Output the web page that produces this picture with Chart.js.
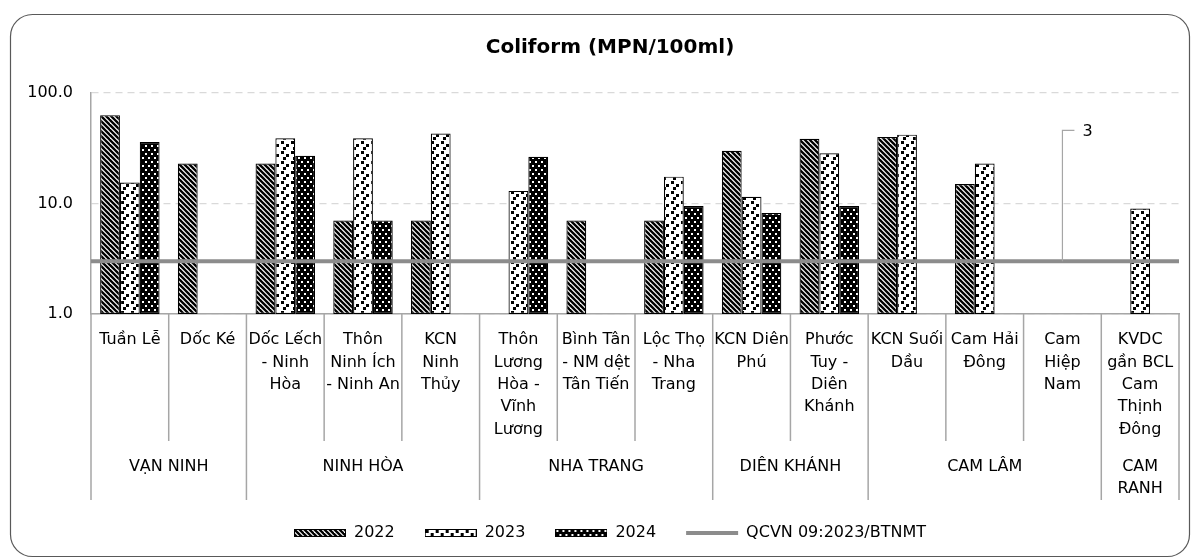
<!DOCTYPE html>
<html>
<head>
<meta charset="utf-8">
<script src="https://cdn.jsdelivr.net/npm/chart.js@4.4.1/dist/chart.umd.min.js"></script>
<style>
html,body{margin:0;padding:0;background:#fff;}
canvas{display:block;}
</style>
</head>
<body>
<canvas id="c" width="1195" height="559"></canvas>
<script>
// ---------- data ----------
const chartTitle = "Coliform (MPN/100ml)";
const categoryLines = [
  ["Tuần Lễ"],
  ["Dốc Ké"],
  ["Dốc Lếch", "- Ninh", "Hòa"],
  ["Thôn", "Ninh Ích", "- Ninh An"],
  ["KCN", "Ninh", "Thủy"],
  ["Thôn", "Lương", "Hòa -", "Vĩnh", "Lương"],
  ["Bình Tân", "- NM dệt", "Tân Tiến"],
  ["Lộc Thọ", "- Nha", "Trang"],
  ["KCN Diên", "Phú"],
  ["Phước", "Tuy -", "Diên", "Khánh"],
  ["KCN Suối", "Dầu"],
  ["Cam Hải", "Đông"],
  ["Cam", "Hiệp", "Nam"],
  ["KVDC", "gần BCL", "Cam", "Thịnh", "Đông"]
];
const groupNames = [["VẠN NINH"], ["NINH HÒA"], ["NHA TRANG"], ["DIÊN KHÁNH"], ["CAM LÂM"], ["CAM", "RANH"]];
const groupSizes = [2, 3, 3, 2, 3, 1];
const seriesNames = ["2022", "2023", "2024"];
const values2022 = [63, 23, 23, 7, 7, null, 7, 7, 30, 38.5, 40, 15, null, null];
const values2023 = [15.5, null, 39, 39, 43, 13, null, 17.5, 11.5, 28.5, 42, 23, null, 9];
const values2024 = [36, null, 27, 7, null, 26.5, null, 9.5, 8.2, 9.5, null, null, null, null];
const limitName = "QCVN 09:2023/BTNMT";
const limitValue = 3;
const limitLabelCategory = 12;
const yTicks = [1, 10, 100];

// ---------- styling ----------
const F = '"DejaVu Sans", sans-serif';
const AXIS = '#a6a6a6';
const LIMIT = '#8c8c8c';
const N = categoryLines.length;

function makeTile(kind) {
  const c = document.createElement('canvas');
  let g;
  if (kind === 0) {
    c.width = 10; c.height = 10; g = c.getContext('2d');
    g.fillStyle = '#fff'; g.fillRect(0, 0, 10, 10);
    g.strokeStyle = '#000'; g.lineWidth = 2.3;
    for (let k = -3; k <= 3; k++) {
      g.beginPath(); g.moveTo(k * 5 - 2, -2); g.lineTo(k * 5 + 12, 12); g.stroke();
    }
  } else if (kind === 1) {
    c.width = 10; c.height = 10; g = c.getContext('2d');
    g.fillStyle = '#fff'; g.fillRect(0, 0, 10, 10);
    g.fillStyle = '#000';
    [[1, 1], [6, 4], [3, 7]].forEach(([x, y]) => g.fillRect(x, y, 3, 3));
  } else {
    c.width = 6; c.height = 8; g = c.getContext('2d');
    g.fillStyle = '#000'; g.fillRect(0, 0, 6, 8);
    g.fillStyle = '#fff';
    [[1, 1], [4, 5]].forEach(([x, y]) => g.fillRect(x, y, 2, 2));
  }
  return c;
}

function makeIcon(kind) {
  const c = document.createElement('canvas');
  c.width = 52; c.height = 8;
  const g = c.getContext('2d');
  g.fillStyle = g.createPattern(makeTile(kind), 'repeat');
  g.fillRect(0, 0, 52, 8);
  g.strokeStyle = '#000'; g.lineWidth = 1;
  g.strokeRect(0.5, 0.5, 51, 7);
  return c;
}

const ctx = document.getElementById('c').getContext('2d');
const patterns = [0, 1, 2].map(k => ctx.createPattern(makeTile(k), 'repeat'));
const legendIcons = [0, 1, 2].map(makeIcon);
const barValues = [values2022, values2023, values2024];

const datasets = seriesNames.map((name, i) => ({
  type: 'bar',
  label: name,
  data: barValues[i].map((v, j) => ({x: j, y: v})),
  backgroundColor: patterns[i],
  borderColor: '#000',
  borderWidth: 1.2,
  borderSkipped: false,
  categoryPercentage: 0.765,
  barPercentage: 1,
  order: 1
}));
datasets.push({
  type: 'line',
  label: limitName,
  data: [{x: -0.5, y: limitValue}, {x: N - 0.5, y: limitValue}],
  borderColor: LIMIT,
  backgroundColor: LIMIT,
  borderWidth: 4,
  pointRadius: 0,
  fill: false,
  order: 0
});

// ---------- plugins ----------
const framePlugin = {
  id: 'frame',
  beforeDraw(chart) {
    const g = chart.ctx;
    g.save();
    g.fillStyle = '#fff';
    g.fillRect(0, 0, chart.width, chart.height);
    g.strokeStyle = '#595959';
    g.lineWidth = 1.2;
    g.beginPath();
    g.roundRect(10.5, 14.5, 1179, 542, 22);
    g.stroke();
    g.restore();
  }
};

const categoryAxisPlugin = {
  id: 'categoryAxis',
  afterDraw(chart) {
    const g = chart.ctx, xs = chart.scales.x, b = chart.chartArea.bottom;
    const edges = new Set([0]);
    let acc = 0;
    groupSizes.forEach(s => { acc += s; edges.add(acc); });
    g.save();
    g.strokeStyle = AXIS;
    g.lineWidth = 1.5;
    for (let i = 0; i <= N; i++) {
      const x = xs.getPixelForValue(i - 0.5);
      const len = edges.has(i) ? 186 : 127;
      g.beginPath(); g.moveTo(x, b); g.lineTo(x, b + len); g.stroke();
    }
    g.fillStyle = '#000';
    g.font = '16px ' + F;
    g.textAlign = 'center';
    g.textBaseline = 'middle';
    categoryLines.forEach((lines, i) => {
      const cx = xs.getPixelForValue(i);
      lines.forEach((t, k) => g.fillText(t, cx, b + 26 + k * 22.4));
    });
    let start = 0;
    groupNames.forEach((lines, gi) => {
      const cx = xs.getPixelForValue(start + groupSizes[gi] / 2 - 0.5);
      lines.forEach((t, k) => g.fillText(t, cx, b + 153 + k * 21.6));
      start += groupSizes[gi];
    });
    g.restore();
  }
};

const limitLabelPlugin = {
  id: 'limitLabel',
  afterDatasetsDraw(chart) {
    const g = chart.ctx, xs = chart.scales.x, ys = chart.scales.y;
    const x = xs.getPixelForValue(limitLabelCategory);
    const y = ys.getPixelForValue(limitValue);
    g.save();
    g.strokeStyle = AXIS;
    g.lineWidth = 1.2;
    g.beginPath();
    g.moveTo(x, y); g.lineTo(x, y - 131); g.lineTo(x + 12, y - 131);
    g.stroke();
    g.fillStyle = '#000';
    g.font = '16px ' + F;
    g.textAlign = 'left';
    g.textBaseline = 'middle';
    g.fillText(String(limitValue), x + 20, y - 129);
    g.restore();
  }
};

new Chart(ctx, {
  type: 'bar',
  data: {
    labels: categoryLines.map(l => l.join(' ')),
    datasets: datasets
  },
  options: {
    responsive: false,
    animation: false,
    devicePixelRatio: 1,
    layout: {padding: {left: 25, right: 0, top: 0, bottom: 8}},
    scales: {
      x: {
        type: 'linear',
        position: 'bottom',
        min: -0.5,
        max: N - 0.5,
        offset: false,
        afterBuildTicks(s) { s.ticks = categoryLines.map((_, i) => ({value: i})); },
        ticks: {display: false},
        grid: {display: false, drawTicks: false, offset: false},
        border: {display: true, color: AXIS, width: 1.5},
        afterFit(s) { s.height = 181; }
      },
      y: {
        type: 'logarithmic',
        position: 'left',
        min: 1,
        max: 100,
        afterBuildTicks(s) { s.ticks = yTicks.map(v => ({value: v})); },
        ticks: {
          padding: 18,
          color: '#000',
          font: {family: F, size: 16},
          callback: v => Number(v).toFixed(1)
        },
        grid: {color: '#d9d9d9', lineWidth: 1.2, drawTicks: false},
        border: {display: true, color: AXIS, width: 1.5, dash: [7, 5]},
        afterFit(s) { s.width = 66; }
      },
      yr: {
        type: 'linear',
        position: 'right',
        display: true,
        ticks: {display: false},
        grid: {display: false, drawTicks: false},
        border: {display: false},
        afterFit(s) { s.width = 16; }
      }
    },
    plugins: {
      title: {
        display: true,
        text: chartTitle,
        color: '#000',
        font: {family: F, size: 20, weight: 'bold'},
        padding: {top: 36, bottom: 33}
      },
      legend: {
        position: 'bottom',
        labels: {
          color: '#000',
          font: {family: F, size: 16},
          usePointStyle: true,
          pointStyleWidth: 52,
          boxHeight: 8,
          padding: 30,
          generateLabels(chart) {
            const items = Chart.defaults.plugins.legend.labels.generateLabels(chart);
            items.sort((a, b) => a.datasetIndex - b.datasetIndex);
            items.forEach(it => {
              const i = it.datasetIndex;
              if (i < 3) {
                it.pointStyle = legendIcons[i];
              } else {
                it.pointStyle = 'line';
                it.strokeStyle = LIMIT;
                it.lineWidth = 4;
              }
            });
            return items;
          }
        }
      },
      tooltip: {enabled: false}
    }
  },
  plugins: [framePlugin, categoryAxisPlugin, limitLabelPlugin]
});
</script>
</body>
</html>
